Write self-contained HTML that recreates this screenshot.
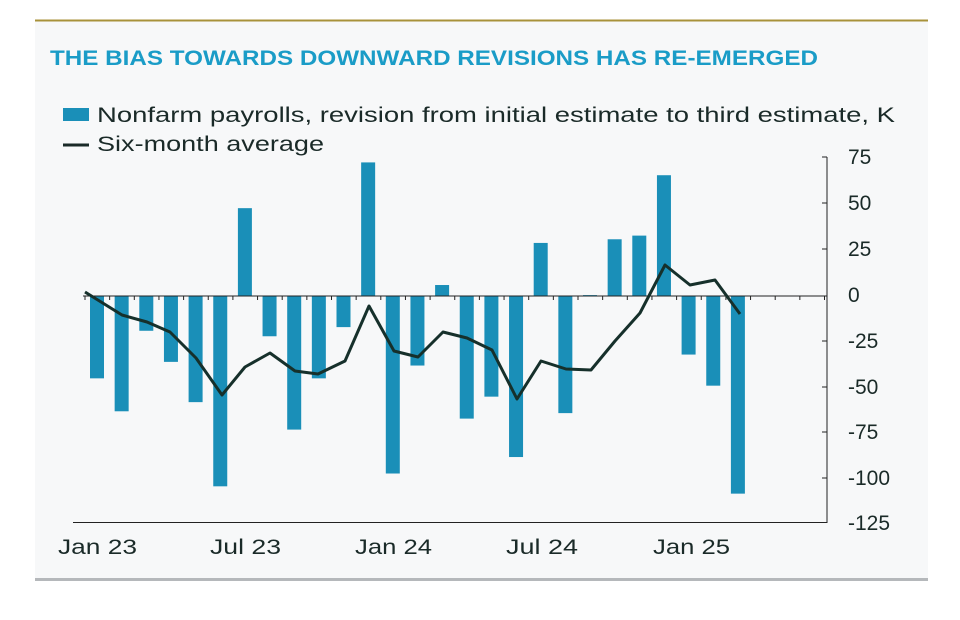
<!DOCTYPE html>
<html><head><meta charset="utf-8"><style>
body{margin:0;background:#fff;}
svg{display:block;font-family:"Liberation Sans",sans-serif;}
</style></head><body>
<svg width="960" height="620" viewBox="0 0 960 620">
<rect x="35" y="21" width="893" height="558" fill="#f7f8f9"/>
<line x1="35" y1="20.5" x2="928" y2="20.5" stroke="#a8923a" stroke-width="2"/>
<line x1="35" y1="579.5" x2="928" y2="579.5" stroke="#b5b8bb" stroke-width="3"/>
<text x="50" y="65" font-size="21" font-weight="bold" fill="#1a9cc7" textLength="768" lengthAdjust="spacingAndGlyphs">THE BIAS TOWARDS DOWNWARD REVISIONS HAS RE-EMERGED</text>
<rect x="63" y="108" width="26" height="13" fill="#1a8fb8"/>
<text x="97" y="122" font-size="21" fill="#1a2a28" textLength="798" lengthAdjust="spacingAndGlyphs">Nonfarm payrolls, revision from initial estimate to third estimate, K</text>
<line x1="63" y1="145" x2="89" y2="145" stroke="#1a2a28" stroke-width="3"/>
<text x="97" y="151" font-size="21" fill="#1a2a28" textLength="227" lengthAdjust="spacingAndGlyphs">Six-month average</text>
<g id="bars" fill="#1a8fb8"></g>
<line x1="83" y1="296" x2="827" y2="296" stroke="#222" stroke-width="1"/>
<g id="ticks" stroke="#222" stroke-width="1"></g>
<line x1="827" y1="157" x2="827" y2="523" stroke="#222" stroke-width="1"/>
<line x1="73" y1="522.5" x2="827" y2="522.5" stroke="#222" stroke-width="1"/>
<g stroke="#222" stroke-width="1">
<line x1="822" y1="157" x2="827" y2="157"/><line x1="822" y1="203" x2="827" y2="203"/><line x1="822" y1="249" x2="827" y2="249"/>
<line x1="822" y1="341" x2="827" y2="341"/><line x1="822" y1="387" x2="827" y2="387"/><line x1="822" y1="432" x2="827" y2="432"/>
<line x1="822" y1="478" x2="827" y2="478"/>
</g>
<g font-size="21" fill="#1a2a28">
<text x="848" y="164">75</text><text x="848" y="210">50</text><text x="848" y="256">25</text>
<text x="848" y="302">0</text><text x="848" y="348">-25</text><text x="848" y="394">-50</text>
<text x="848" y="439">-75</text><text x="848" y="485">-100</text><text x="848" y="530">-125</text>
</g>
<g font-size="21" fill="#1a2a28">
<text x="58" y="554" textLength="79" lengthAdjust="spacingAndGlyphs">Jan 23</text>
<text x="210" y="554" textLength="71" lengthAdjust="spacingAndGlyphs">Jul 23</text>
<text x="355" y="554" textLength="77" lengthAdjust="spacingAndGlyphs">Jan 24</text>
<text x="506" y="554" textLength="72" lengthAdjust="spacingAndGlyphs">Jul 24</text>
<text x="653" y="554" textLength="77" lengthAdjust="spacingAndGlyphs">Jan 25</text>
</g>
<polyline fill="none" stroke="#16302b" stroke-width="3" stroke-linejoin="round" points="85,292 122,315 147,322 170,332 196,358 222,395 245,367 270,353 295,371 318,374 345,361 369,306 394,351 418,357 443,332 467,338 492,350 517,399 541,361 566,369 591,370 615,341 640,313 665,265 690,285 715,280 740,314"/>
</svg>
<script>
var vals=[-45,-63,-19,-36,-58,-104,48,-22,-73,-45,-17,73,-97,-38,6,-67,-55,-88,29,-64,0.5,31,33,66,-32,-49,-108];
var g=document.getElementById('bars'),t=document.getElementById('ticks'),ns="http://www.w3.org/2000/svg";
var z=296,s=1.83;
vals.forEach(function(v,i){var cx=97+24.65*i;var r=document.createElementNS(ns,'rect');
var h=Math.abs(v)*s;r.setAttribute('x',cx-7);r.setAttribute('width',14);
r.setAttribute('y',v>=0?z-h:z);r.setAttribute('height',h);g.appendChild(r);});
for(var i=0;i<31;i++){var x=85+24.65*i;if(x>827)break;var l=document.createElementNS(ns,'line');
l.setAttribute('x1',x);l.setAttribute('x2',x);l.setAttribute('y1',296);l.setAttribute('y2',300);t.appendChild(l);}
</script>
</body></html>
